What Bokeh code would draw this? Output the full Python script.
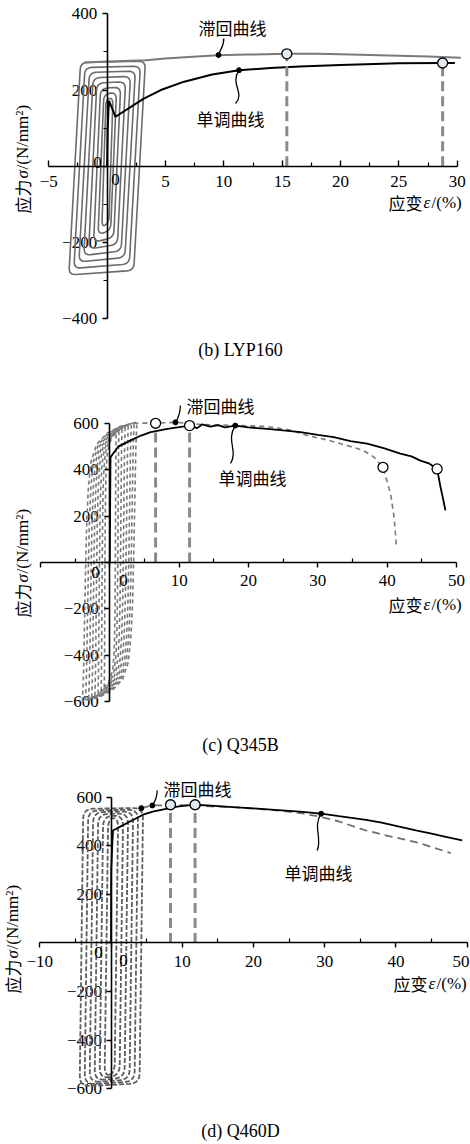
import math
from bokeh.plotting import figure
from bokeh.layouts import column
from bokeh.models import Range1d, FixedTicker
from bokeh.core.properties import value
from bokeh.embed import file_html
from bokeh.resources import INLINE

SERIF = "Liberation Serif"
CJK = "Noto Sans CJK SC"
W = 470

# ---------------- data: panel (b) LYP160 ----------------
b_x_ticks = [-5, 0, 5, 10, 15, 20, 25, 30]
b_x_minor = [-2.5, 2.5, 7.5, 12.5, 17.5, 22.5, 27.5]
b_y_ticks = [-400, -200, 0, 200, 400]
b_y_minor = [-300, -100, 100, 300]
# hysteresis loops: bottom-left x, top-right x, top stress, bottom stress, elastic shear
b_loop_xl = [-3.28, -2.85, -2.42, -2.0, -1.58, -1.16, -0.78, -0.45]
b_loop_xr = [3.28, 2.85, 2.42, 2.0, 1.58, 1.16, 0.8, 0.5]
b_loop_top = [272, 259, 246, 232, 218, 204, 190, 176]
b_loop_bot = [-285, -268, -251, -234, -217, -199, -180, -160]
b_loop_shear = [1.0, 0.95, 0.9, 0.8, 0.7, 0.6, 0.5, 0.35]
b_env_x = [-2.0, 0, 2, 3.3, 5, 7, 9.5, 12, 15.4, 18, 20, 22.5, 25, 27.5, 30.3]
b_env_y = [272, 275, 277, 278, 283, 287, 291, 293, 295, 295, 294, 292, 290, 288, 285]
b_mono_x = [0, 0.05, 0.15, 0.72, 3.1, 4.6, 6.6, 9.0, 11.3, 14.0, 16.5, 20.0, 22.2, 25.0, 28.75, 29.8]
b_mono_y = [0, 100, 172, 130, 177, 200, 222, 241, 252, 258, 262, 266, 268, 270, 271, 271]
b_circ_x = [15.4, 28.75]
b_circ_y = [295, 271]
b_dot_x = [9.55, 11.3]
b_dot_y = [292, 252]

# ---------------- data: panel (c) Q345B ----------------
c_x_ticks = [-10, 0, 10, 20, 30, 40, 50]
c_x_minor = [-5, 5, 15, 25, 35, 45]
c_y_ticks = [-600, -400, -200, 0, 200, 400, 600]
c_loop_xmin = [-0.8, -1.25, -1.7, -2.15, -2.6, -3.05, -3.5, -3.95]
c_loop_xmax = [0.9, 1.3, 1.75, 2.2, 2.65, 3.1, 3.5, 3.9]
c_loop_ymax = [560, 570, 578, 585, 592, 598, 603, 606]
c_loop_ymin = [-540, -555, -565, -575, -582, -588, -594, -600]
# normalised shape of one loop branch (bottom tip -> top tip)
c_shape_u = [0, 0.02, 0.04, 0.06, 0.08, 0.11, 0.16, 0.26, 0.45, 0.7, 1.0]
c_shape_v = [0, 0.1, 0.3, 0.5, 0.65, 0.77, 0.86, 0.92, 0.96, 0.985, 1.0]
c_env_x = [3.4, 5.0, 6.6, 9.5, 13.1, 18.0, 22.7, 26.0, 28.5, 31.5, 34.2, 36.5, 38.1, 39.4, 40.5, 41.0, 41.35]
c_env_y = [600, 602, 601, 605, 596, 592, 587, 572, 548, 528, 505, 485, 455, 411, 296, 196, 66]
c_mono_x = [0, 0.05, 0.1, 1.2, 3.0, 4.5, 5.9, 8.3, 10.0, 11.5, 12.6, 13.3, 14.5, 15.6, 16.6, 18.1, 20.0, 22.7, 25.0,
            27.5, 30.0, 32.3, 34.7, 37.1, 39.5, 41.9, 43.5, 44.8, 46.0, 47.2, 47.7, 48.1, 48.4]
c_mono_y = [0, 250, 455, 500, 527, 548, 563, 577, 584, 591, 580, 596, 587, 593, 583, 591, 583, 577, 570,
            563, 551, 541, 524, 513, 494, 470, 458, 440, 428, 404, 325, 270, 225]
c_circ_x = [6.6, 11.5, 39.4, 47.2]
c_circ_y = [601, 591, 411, 404]
c_dot_x = [9.47, 18.1]
c_dot_y = [605, 591]

# ---------------- data: panel (d) Q460D ----------------
d_x_ticks = [-10, 0, 10, 20, 30, 40, 50]
d_x_minor = [-5, 5, 15, 25, 35, 45]
d_y_ticks = [-600, -400, -200, 0, 200, 400, 600]
d_loop_xl = [-4.4, -3.7, -3.0, -2.3, -1.6, -0.9]
d_loop_xr = [4.5, 3.8, 3.1, 2.4, 1.7, 1.0]
d_loop_top = [552, 545, 538, 530, 522, 512]
d_loop_bot = [-590, -582, -574, -566, -558, -548]
d_loop_shear = [0.5, 0.5, 0.5, 0.5, 0.5, 0.5]
d_env_x = [4.25, 5.8, 7.05, 8.35, 11.0, 14.0, 17.1, 20.0, 23.6, 26.5, 29.3, 32.0, 35.8, 39.0, 42.8, 45.0, 47.7]
d_env_y = [555, 566, 566, 569, 566, 562, 559, 553, 545, 535, 520, 500, 463, 440, 415, 395, 370]
d_mono_x = [0, 0.02, 0.27, 1.5, 3.0, 4.5, 6.0, 7.75, 9.5, 11.8, 14.0, 17.1, 20.0, 23.0, 26.5, 29.5, 32.0,
            35.8, 38.0, 40.0, 42.8, 45.0, 47.0, 49.3]
d_mono_y = [0, 300, 463, 482, 505, 528, 542, 552, 562, 569, 565, 559, 554, 548, 541, 532, 522,
            507, 495, 482, 463, 450, 437, 422]
d_circ_x = [8.35, 11.8]
d_circ_y = [569, 569]
d_dot_x = [4.25, 5.8, 29.5]
d_dot_y = [555, 566, 532]

LABEL_HYST = "滞回曲线"
LABEL_MONO = "单调曲线"


def fmt(v):
    s = str(int(v)) if float(v).is_integer() else str(v)
    return s.replace("-", "\u2212")


class Panel:
    def __init__(self, H, x0, x1, y0, y1):
        self.H, self.x0, self.x1, self.y0, self.y1 = H, x0, x1, y0, y1
        self.sx = W / (x1 - x0)
        self.sy = H / (y1 - y0)
        p = figure(width=W, height=H, x_range=Range1d(x0, x1), y_range=Range1d(y0, y1),
                   output_backend="svg", toolbar_location=None, min_border=0,
                   outline_line_color=None)
        p.grid.visible = False
        self.p = p

    def X(self, px):
        return self.x0 + px / self.sx

    def Y(self, py):
        return self.y1 - py / self.sy

    def txt(self, px, py, s, font=SERIF, size="17px", align="center", baseline="middle",
            angle=0.0, style="normal"):
        self.p.text(x=[self.X(px)], y=[self.Y(py)], text=[s], text_font=value(font),
                    text_font_size=size, text_align=align, text_baseline=baseline,
                    angle=angle, text_font_style=style, text_color="black")


def style_axes(P, xt, xm, xb, yt, ym, yb, x_in, x_out, x_lab_off, y_lab_off,
               hide_x=(0,), edge_x=()):
    p = P.p
    xa, ya = p.xaxis[0], p.yaxis[0]
    xa.fixed_location = 0
    ya.fixed_location = 0
    xa.bounds = xb
    ya.bounds = yb
    xa.ticker = FixedTicker(ticks=xt, minor_ticks=xm)
    ya.ticker = FixedTicker(ticks=yt, minor_ticks=ym)
    for a in (xa, ya):
        a.axis_line_width = 1.6
        a.axis_line_color = "black"
        a.major_tick_line_width = 1.4
        a.minor_tick_line_width = 1.2
        a.major_label_text_font_size = "0px"
        a.major_label_text_alpha = 0
    xa.major_tick_in, xa.major_tick_out = x_in
    xa.minor_tick_in, xa.minor_tick_out = x_out
    ya.major_tick_in, ya.major_tick_out = 0, 5
    ya.minor_tick_in, ya.minor_tick_out = 0, 4
    # tick labels as serif text
    xv = [t for t in xt if t not in hide_x and t not in edge_x]
    p.text(x=xv, y=[0] * len(xv), text=[fmt(t) for t in xv], text_font=value(SERIF),
           text_font_size="17px", text_align="center", text_baseline="middle",
           y_offset=x_lab_off, text_color="black")
    for t in edge_x:  # label at the right edge of the canvas: keep it inside
        p.text(x=[P.x1], y=[0], text=[fmt(t)], text_font=value(SERIF),
               text_font_size="17px", text_align="right", text_baseline="middle",
               x_offset=-1, y_offset=x_lab_off, text_color="black")
    yv = [t for t in yt if t != 0]
    p.text(x=[0] * len(yv), y=yv, text=[fmt(t) for t in yv], text_font=value(SERIF),
           text_font_size="17px", text_align="right", text_baseline="middle",
           x_offset=y_lab_off, text_color="black")


def rounded_loop(corners, r, sx, sy, n=5):
    P = [(x * sx, y * sy) for x, y in corners]
    out = []
    m = len(P)
    for i in range(m):
        A, C, B = P[i - 1], P[i], P[(i + 1) % m]
        da = (A[0] - C[0], A[1] - C[1])
        db = (B[0] - C[0], B[1] - C[1])
        la, lb = math.hypot(*da), math.hypot(*db)
        ra, rb = min(r, la / 2), min(r, lb / 2)
        p0 = (C[0] + da[0] / la * ra, C[1] + da[1] / la * ra)
        p1 = (C[0] + db[0] / lb * rb, C[1] + db[1] / lb * rb)
        for k in range(n + 1):
            t = k / n
            out.append(((1 - t) ** 2 * p0[0] + 2 * (1 - t) * t * C[0] + t * t * p1[0],
                        (1 - t) ** 2 * p0[1] + 2 * (1 - t) * t * C[1] + t * t * p1[1]))
    out.append(out[0])
    return [q[0] / sx for q in out], [q[1] / sy for q in out]


def para_loops(xl, xr, top, bot, shear, r, sx, sy):
    xs, ys = [], []
    for a, b, t, btm, s in zip(xl, xr, top, bot, shear):
        corners = [(a, btm), (a + s, t), (b, t + 4), (b - s, btm + 12)]
        lx, ly = rounded_loop(corners, r, sx, sy)
        xs.append(lx)
        ys.append(ly)
    return xs, ys


def axis_titles(P, ylab_x, ylab_bottom, xlab_x, xlab_y):
    up = math.pi / 2
    P.txt(ylab_x, ylab_bottom, "应力", font=CJK, align="left", angle=up)
    P.txt(ylab_x, ylab_bottom - 35, "σ", align="left", angle=up, style="italic")
    P.txt(ylab_x, ylab_bottom - 44, "/(N/mm²)", align="left", angle=up)
    P.txt(xlab_x, xlab_y, "应变", font=CJK, align="left")
    P.txt(xlab_x + 35, xlab_y, "ε", align="left", style="italic")
    P.txt(xlab_x + 43, xlab_y, "/(%)", align="left")


# ====================== panel (b) ======================
B = Panel(370, -9.139, 31.139, -535.6, 434.9)
pb = B.p
style_axes(B, b_x_ticks, b_x_minor, (-5, 30), b_y_ticks, b_y_minor, (-400, 400),
           (6, 0), (4, 0), 15, -10)
lx, ly = para_loops(b_loop_xl, b_loop_xr, b_loop_top, b_loop_bot, b_loop_shear, 7, B.sx, B.sy)
pb.multi_line(xs=lx, ys=ly, line_color="#6b6b6b", line_width=1.6)
pb.line(b_env_x, b_env_y, line_color="#7a7a7a", line_width=2)
pb.line(b_mono_x, b_mono_y, line_color="black", line_width=2)
pb.segment(x0=b_circ_x, y0=[0] * len(b_circ_x), x1=b_circ_x, y1=b_circ_y,
           line_color="#8a8a8a", line_width=3, line_dash="10 5")
pb.bezier(x0=[B.X(223.3), b_dot_x[1]], y0=[B.Y(38), b_dot_y[1]],
          x1=[b_dot_x[0], B.X(235)], y1=[b_dot_y[0], B.Y(103)],
          cx0=[B.X(223.5), B.X(229)], cy0=[B.Y(46), B.Y(84)],
          cx1=[B.X(219.5), B.X(245)], cy1=[B.Y(49), B.Y(92)],
          line_color="black", line_width=1.3)
pb.scatter(b_dot_x, b_dot_y, size=5, color="black")
pb.scatter(b_circ_x, b_circ_y, size=10, fill_color="#e2eaf2", line_color="black", line_width=1.3)
B.txt(232, 27, LABEL_HYST, font=CJK)
B.txt(230, 118, LABEL_MONO, font=CJK)
B.txt(97, 162, "0")
B.txt(115, 179, "0")
axis_titles(B, 21.7, 213, 388, 202)
B.txt(240, 349, "(b) LYP160", size="18px")

# ====================== panel (c) ======================
C = Panel(390, -15.769, 52.02, -854.6, 828.8)
pc = C.p
style_axes(C, c_x_ticks, c_x_minor, (-10, 50), c_y_ticks, [], (-600, 600),
           (0, 5), (4, 0), 18, -11, hide_x=(0, -10))
cxs, cys = [], []
for a, b, t, btm in zip(c_loop_xmin, c_loop_xmax, c_loop_ymax, c_loop_ymin):
    up_x = [a + u * (b - a) for u in c_shape_u]
    up_y = [btm + v * (t - btm) for v in c_shape_v]
    dn_x = [a + (1 - u) * (b - a) for u in c_shape_u]
    dn_y = [btm + (1 - v) * (t - btm) for v in c_shape_v]
    cxs.append(up_x + dn_x)
    cys.append(up_y + dn_y)
pc.multi_line(xs=cxs, ys=cys, line_color="#7a7a7a", line_width=1.6, line_dash="4 3")
pc.line(c_env_x, c_env_y, line_color="#7a7a7a", line_width=1.6, line_dash="5 4")
pc.line(c_mono_x, c_mono_y, line_color="black", line_width=1.8)
pc.segment(x0=c_circ_x[:2], y0=[0, 0], x1=c_circ_x[:2], y1=c_circ_y[:2],
           line_color="#8a8a8a", line_width=3, line_dash="10 5")
pc.bezier(x0=[C.X(180), c_dot_x[1]], y0=[C.Y(35), c_dot_y[1]],
          x1=[c_dot_x[0], C.X(230)], y1=[c_dot_y[0], C.Y(93)],
          cx0=[C.X(179.5), C.X(225)], cy0=[C.Y(42), C.Y(70)],
          cx1=[C.X(177), C.X(238)], cy1=[C.Y(49), C.Y(80)],
          line_color="black", line_width=1.3)
pc.scatter(c_dot_x, c_dot_y, size=5, color="black")
pc.scatter(c_circ_x, c_circ_y, size=10, fill_color="white", line_color="black", line_width=1.3)
C.txt(220, 35, LABEL_HYST, font=CJK)
C.txt(252, 107, LABEL_MONO, font=CJK)
C.txt(95, 202, "0")
C.txt(123, 210, "0")
axis_titles(C, 21.7, 247, 388, 234)
C.txt(240, 374, "(c) Q345B", size="18px")

# ====================== panel (d) ======================
D = Panel(384, -15.517, 50.467, -829.2, 751.0)
pd = D.p
style_axes(D, d_x_ticks, d_x_minor, (-10, 50), d_y_ticks, [], (-600, 600),
           (0, 5), (4, 0), 19, -9, edge_x=(50,))
dx, dy = para_loops(d_loop_xl, d_loop_xr, d_loop_top, d_loop_bot, d_loop_shear, 10, D.sx, D.sy)
pd.multi_line(xs=dx, ys=dy, line_color="#5e5e5e", line_width=1.8, line_dash="5 2")
pd.line(d_env_x, d_env_y, line_color="#6e6e6e", line_width=1.8, line_dash="8 5")
pd.line(d_mono_x, d_mono_y, line_color="black", line_width=1.8)
pd.segment(x0=d_circ_x, y0=[0, 0], x1=d_circ_x, y1=d_circ_y,
           line_color="#8a8a8a", line_width=3, line_dash="10 5")
pd.bezier(x0=[D.X(156.7), d_dot_x[2]], y0=[D.Y(30), d_dot_y[2]],
          x1=[d_dot_x[1], D.X(316.7)], y1=[d_dot_y[1], D.Y(90)],
          cx0=[D.X(156.5), D.X(312)], cy0=[D.Y(37), D.Y(66)],
          cx1=[D.X(154), D.X(322)], cy1=[D.Y(42), D.Y(78)],
          line_color="black", line_width=1.3)
pd.scatter(d_dot_x, d_dot_y, size=5, color="black")
pd.scatter(d_circ_x, d_circ_y, size=10, fill_color="#e2eaf2", line_color="black", line_width=1.3)
D.txt(197, 28, LABEL_HYST, font=CJK)
D.txt(318, 112, LABEL_MONO, font=CJK)
D.txt(98, 192, "0")
D.txt(123, 200, "0")
axis_titles(D, 12, 233, 393, 223)
D.txt(240, 370, "(d) Q460D", size="18px")

layout = column(pb, pc, pd, spacing=0)
open("out.html", "w").write(file_html(layout, INLINE))
